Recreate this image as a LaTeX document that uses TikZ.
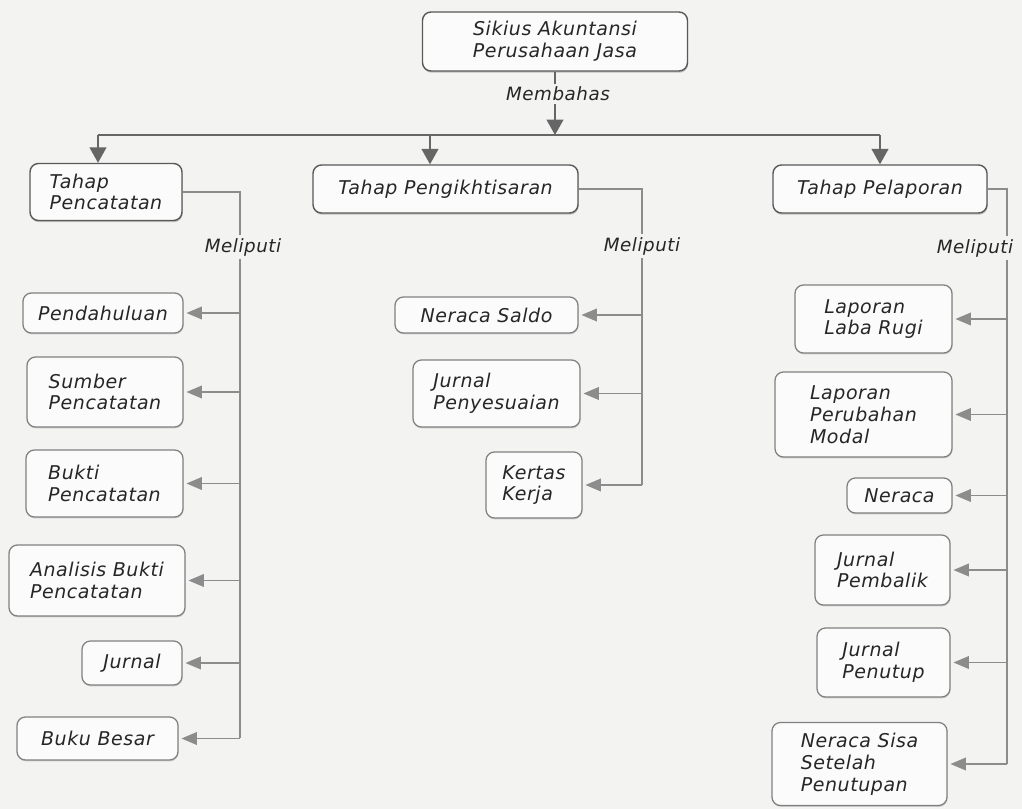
\documentclass[tikz,border=0pt]{standalone}
\usepackage{fontspec}
\setmainfont{DejaVu Sans}[LetterSpace=3]
\usepackage{tikz}
\usetikzlibrary{arrows.meta,shadows}
\definecolor{paperbg}{HTML}{F3F3F2}
\definecolor{boxfill}{HTML}{FBFBFB}
\definecolor{linegrey}{HTML}{8C8C8C}
\tikzset{
  basebox/.style={fill=boxfill,rounded corners=6pt,align=left,inner sep=2pt,
    font=\fontsize{13.5}{15.5}\selectfont\itshape,text=black!85},
  stagebox/.style={basebox,draw=black!65,line width=1pt,
    drop shadow={shadow xshift=0.4pt,shadow yshift=-1.2pt,opacity=0.45}},
  itembox/.style={basebox,draw=black!50,line width=0.9pt,
    drop shadow={shadow xshift=0.3pt,shadow yshift=-1pt,opacity=0.3}},
  boxsize/.style 2 args={minimum width=#1*0.025cm,minimum height=#2*0.025cm},
  linklabel/.style={fill=paperbg,inner sep=2pt,font=\fontsize{13}{15}\selectfont\itshape,text=black!85},
  railline/.style={draw=linegrey,line width=1.1pt},
  topline/.style={draw=black!60,line width=1.2pt},
  toparrow/.style={-{Triangle[length=11pt,width=12pt]},topline},
  branch/.style={-{Triangle[length=11pt,width=9pt]},railline,shorten >=2pt}
}

\begin{document}
\begin{tikzpicture}[x=0.025cm,y=-0.025cm]
  \fill[paperbg] (0,0) rectangle (1022,809);
  \useasboundingbox (0,0) rectangle (1022,809);

  % root and stages
  \node[stagebox,boxsize={265}{59},align=center] (sikius) at (555,41.5) {Sikius Akuntansi\\Perusahaan Jasa};
  \node[linklabel] (membahas) at (558,94) {Membahas};
  \coordinate (barL) at (98,135);
  \coordinate (barM) at (430,135);
  \coordinate (barT) at (555,135);
  \coordinate (barR) at (880,135);
  \node[stagebox,boxsize={152}{57}] (pencatatan) at (106,192) {Tahap\\Pencatatan};
  \node[stagebox,boxsize={265}{48}] (pengikhtisaran) at (445.5,189) {Tahap Pengikhtisaran};
  \node[stagebox,boxsize={214}{48}] (pelaporan) at (880,189) {Tahap Pelaporan};

  % items of each stage
  \node[itembox,boxsize={160}{40},align=center] (pendahuluan) at (103,313) {Pendahuluan};
  \node[itembox,boxsize={156}{70}] (sumber) at (105,392) {Sumber\\Pencatatan};
  \node[itembox,boxsize={157}{67}] (bukti) at (104.5,483.5) {Bukti\\Pencatatan};
  \node[itembox,boxsize={176}{71}] (analisis) at (97,580.5) {Analisis Bukti\\Pencatatan};
  \node[itembox,boxsize={100}{44},align=center] (jurnal) at (132,663) {Jurnal};
  \node[itembox,boxsize={161}{43},align=center] (bukubesar) at (97.5,738.5) {Buku Besar};

  \node[itembox,boxsize={183}{36},align=center] (neracasaldo) at (486.5,315) {Neraca Saldo};
  \node[itembox,boxsize={167}{67}] (penyesuaian) at (496.5,393.5) {Jurnal\\Penyesuaian};
  \node[itembox,boxsize={96}{66}] (kertaskerja) at (534,485) {Kertas\\Kerja};

  \node[itembox,boxsize={157}{68}] (labarugi) at (873.5,319) {Laporan\\Laba Rugi};
  \node[itembox,boxsize={177}{85}] (perubahanmodal) at (863.5,414.5) {Laporan\\Perubahan\\Modal};
  \node[itembox,boxsize={105}{35},align=center] (neraca) at (899.5,495.5) {Neraca};
  \node[itembox,boxsize={135}{70}] (pembalik) at (882.5,570) {Jurnal\\Pembalik};
  \node[itembox,boxsize={133}{69}] (penutup) at (883.5,662.5) {Jurnal\\Penutup};
  \node[itembox,boxsize={175}{83}] (neracasisa) at (859.5,764) {Neraca Sisa\\Setelah\\Penutupan};

  % connectors
  \draw[topline] (sikius.south) -- (sikius.south |- membahas.north);
  \draw[toparrow] (membahas.south -| barT) -- (barT);
  \draw[topline] (barL) -- (barR);
  \draw[toparrow] (barL) -- (barL |- pencatatan.north);
  \draw[toparrow] (barM) -- (barM |- pengikhtisaran.north);
  \draw[toparrow] (barR) -- (barR |- pelaporan.north);

  \coordinate (railA) at (240,738);
  \coordinate (railB) at (642,485);
  \coordinate (railC) at (1007,764);
  \draw[railline] (pencatatan.east) -| (railA);
  \draw[railline] (pengikhtisaran.east) -| (railB);
  \draw[railline] (pelaporan.east) -| (railC);
  \foreach \n in {pendahuluan,sumber,bukti,analisis,jurnal,bukubesar}
    \draw[branch] (\n.east -| railA) -- (\n.east);
  \foreach \n in {neracasaldo,penyesuaian,kertaskerja}
    \draw[branch] (\n.east -| railB) -- (\n.east);
  \foreach \n in {labarugi,perubahanmodal,neraca,pembalik,penutup,neracasisa}
    \draw[branch] (\n.east -| railC) -- (\n.east);

  \node[linklabel] (meliputiA) at (243,247) {Meliputi};
  \node[linklabel] (meliputiB) at (642,246) {Meliputi};
  \node[linklabel] (meliputiC) at (975,248) {Meliputi};
\end{tikzpicture}
\end{document}
